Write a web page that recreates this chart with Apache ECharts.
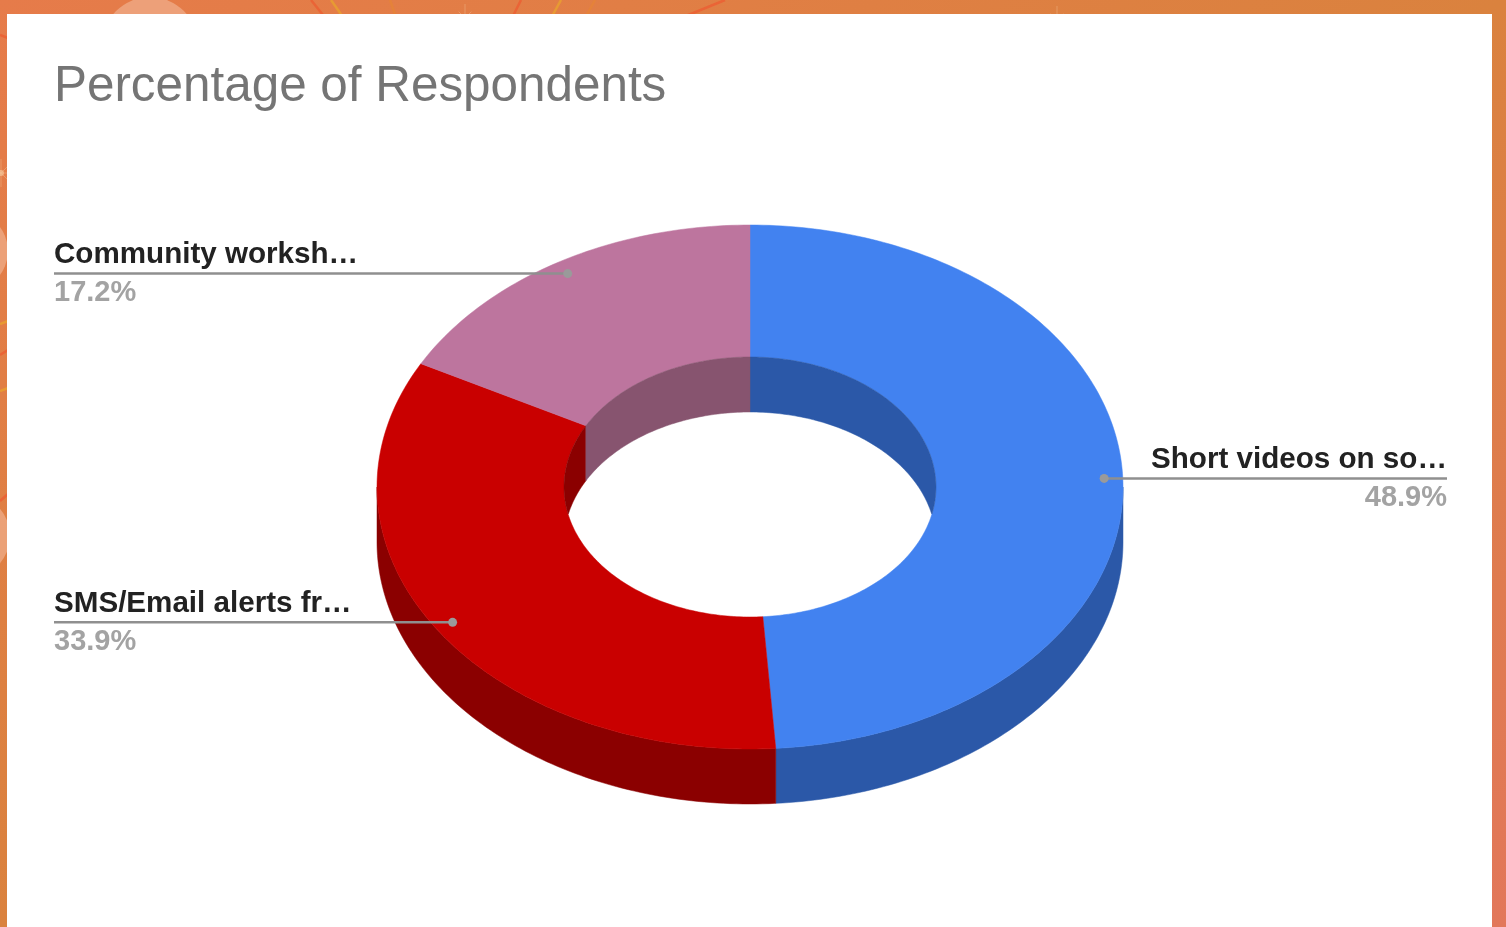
<!DOCTYPE html>
<html>
<head>
<meta charset="utf-8">
<style>html,body{margin:0;padding:0;background:#fff}#chart{width:1506px;height:927px}</style>
<script src="https://cdn.jsdelivr.net/npm/echarts@6/dist/echarts.min.js"></script>
</head>
<body>
<div id="chart"></div>
<script>
// Survey shares, clockwise from twelve o'clock
const categories = ['Short videos on so…', 'SMS/Email alerts fr…', 'Community worksh…'];
const shares = [48.9, 33.9, 17.2];
const topColors = ['#4282f0', '#c90000', '#bd759e'];
const wallColors = ['#2b58a8', '#8b0000', '#87546f'];

// Ring geometry: a tilted disc with a hole, extruded downwards
const CX = 750, CY = 487, RX = 373, RY = 262, IN_RX = 186, IN_RY = 130, DEPTH = 55;
const LEFT = 54, RIGHT = 1447, STEP = 1;

const total = shares.reduce((a, b) => a + b, 0);
let running = 0;
const rows = shares.map((v, i) => {
  const row = [i, running / total * 360, (running + v) / total * 360];
  running += v;
  return row;
});

const rad = d => d * Math.PI / 180;
const onEllipse = (rx, ry, a, dy = 0) => [CX + rx * Math.sin(rad(a)), CY - ry * Math.cos(rad(a)) + dy];
function sweep(a0, a1) {
  const out = [];
  for (let a = a0; a < a1; a += STEP) out.push(a);
  out.push(a1);
  return out;
}

// Outside wall: only the front half of the rim can be seen
function outerWall(a0, a1) {
  const s = Math.max(a0, 90), e = Math.min(a1, 270);
  if (s >= e) return null;
  const angles = sweep(s, e);
  return angles.map(a => onEllipse(RX, RY, a))
    .concat(angles.slice().reverse().map(a => onEllipse(RX, RY, a, DEPTH)));
}

// Inside wall: the back half of the hole, cut off where it meets the hole's front edge
function innerWall(a0, a1) {
  const ranges = [[Math.max(a0, 270), Math.min(a1, 360)], [Math.max(a0, 0), Math.min(a1, 90)]];
  const polys = [];
  ranges.forEach(([s, e]) => {
    if (s >= e) return;
    const angles = sweep(s, e);
    const upper = angles.map(a => onEllipse(IN_RX, IN_RY, a));
    const lower = angles.slice().reverse().map(a => {
      const c = IN_RY * Math.cos(rad(a));
      return [CX + IN_RX * Math.sin(rad(a)), Math.min(CY + DEPTH - c, CY + c)];
    });
    polys.push(upper.concat(lower));
  });
  return polys;
}

function renderSlice(params, api) {
  const i = api.value(0), a0 = api.value(1), a1 = api.value(2);
  const children = [];
  const poly = (points, color, z2) => children.push({
    type: 'polygon', z2, shape: { points },
    style: { fill: color, stroke: color, lineWidth: 0.5 }
  });

  const wall = outerWall(a0, a1);
  if (wall) poly(wall, wallColors[i], 1);

  const angles = sweep(a0, a1);
  poly(angles.map(a => onEllipse(RX, RY, a))
    .concat(angles.slice().reverse().map(a => onEllipse(IN_RX, IN_RY, a))), topColors[i], 2);

  innerWall(a0, a1).forEach(p => poly(p, wallColors[i], 3));

  // Leader from the slice's middle out to its label
  const mid = (a0 + a1) / 2;
  const [ax, ay] = onEllipse(RX * 0.95, RY * 0.95, mid);
  const onRight = ax > CX;
  const edge = onRight ? RIGHT : LEFT;
  children.push({
    type: 'line', z2: 4,
    shape: { x1: ax, y1: ay, x2: edge, y2: ay },
    style: { stroke: '#8f8f8f', lineWidth: 2.5 }
  });
  children.push({
    type: 'circle', z2: 5,
    shape: { cx: ax, cy: ay, r: 4.5 },
    style: { fill: '#9a9a9a' }
  });
  children.push({
    type: 'text', z2: 6,
    style: {
      text: categories[i], x: edge, y: ay - 33.5,
      font: 'bold 29.6px "Liberation Sans"', fill: '#222222',
      textAlign: onRight ? 'right' : 'left', textBaseline: 'top'
    }
  });
  children.push({
    type: 'text', z2: 6,
    style: {
      text: shares[i].toFixed(1) + '%', x: edge, y: ay + 5,
      font: 'bold 29px "Liberation Sans"', fill: '#a3a3a3',
      textAlign: onRight ? 'right' : 'left', textBaseline: 'top'
    }
  });
  return { type: 'group', children };
}

// Slide backdrop: warm gradient with pale discs, streaks and sparkles around the white panel
const W = 1506, H = 927;
const backdropFill = new echarts.graphic.LinearGradient(0, 0, 828, 1345, [
  { offset: 0, color: '#e67b4a' },
  { offset: 0.5, color: '#da823e' },
  { offset: 1, color: '#e2775a' }
], true);
const discs = [[150, 45, 48], [-32, 251, 40], [-32, 536, 42]];
const streaks = [
  [311, 0, 327, 20, '#ea6436'], [331, 0, 345, 20, '#e79a33'], [390, 0, 397, 20, '#e5823a'],
  [521, 0, 511, 20, '#ea6436'], [561, 0, 550, 20, '#e79a33'], [595, 0, 584, 20, '#e5823a'],
  [725, 0, 676, 20, '#ea6436'],
  [0, 35, 8, 38, '#ea6436'], [0, 324, 8, 321, '#e79a33'], [0, 355, 8, 350, '#ea6436'],
  [0, 391, 8, 388, '#e79a33'], [0, 501, 8, 494, '#ea6436']
];
const sparkles = [[465, 18], [1057, 20], [1, 173]];

const backdrop = [
  { type: 'rect', z: 0, silent: true, shape: { x: 0, y: 0, width: W, height: H }, style: { fill: backdropFill } }
];
discs.forEach(([cx, cy, r]) => backdrop.push({
  type: 'circle', z: 0, silent: true, shape: { cx, cy, r }, style: { fill: 'rgba(240,175,140,0.72)' }
}));
streaks.forEach(([x1, y1, x2, y2, stroke]) => backdrop.push({
  type: 'line', z: 0, silent: true, shape: { x1, y1, x2, y2 }, style: { stroke, lineWidth: 2.5 }
}));
sparkles.forEach(([cx, cy]) => {
  backdrop.push({ type: 'circle', z: 0, silent: true, shape: { cx, cy, r: 3 }, style: { fill: 'rgba(245,195,150,0.7)' } });
  for (let d = 0; d < 360; d += 45) {
    const len = d % 90 === 0 ? 14 : 9;
    backdrop.push({
      type: 'line', z: 0, silent: true,
      shape: { x1: cx, y1: cy, x2: cx + len * Math.cos(rad(d)), y2: cy + len * Math.sin(rad(d)) },
      style: { stroke: 'rgba(245,195,150,0.4)', lineWidth: 1 }
    });
  }
});
backdrop.push({
  type: 'rect', z: 1, silent: true, shape: { x: 7, y: 14, width: 1485, height: 913 }, style: { fill: '#ffffff' }
});

const chart = echarts.init(document.getElementById('chart'), null, { renderer: 'canvas' });
chart.setOption({
  animation: false,
  title: {
    text: 'Percentage of Respondents',
    left: 54, top: 63, padding: 0, z: 10,
    textStyle: { color: '#757575', fontFamily: '"Liberation Sans"', fontSize: 49.4, fontWeight: 'normal' }
  },
  graphic: { elements: backdrop },
  series: [{
    type: 'custom',
    coordinateSystem: 'none',
    silent: true,
    z: 5,
    data: rows,
    renderItem: renderSlice
  }]
});
</script>
</body>
</html>
